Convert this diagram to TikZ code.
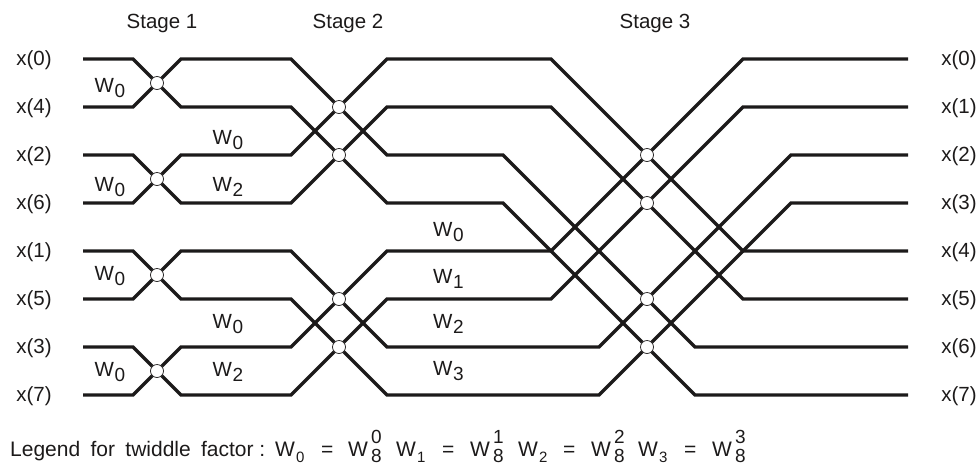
\documentclass[tikz,border=0pt]{standalone}
\usepackage{fontspec}
\setmainfont{Liberation Sans}
\definecolor{ink}{HTML}{1C1A1A}
\newcommand{\tw}[1]{W\hspace{0.5pt}\raisebox{-5pt}{\fontsize{19}{19}\selectfont #1}}
\newcommand{\tl}[1]{W\hspace{1pt}\raisebox{-6pt}{\fontsize{15}{15}\selectfont #1}}
\newcommand{\tp}[1]{W\hspace{3pt}\rlap{\raisebox{13.5pt}{\fontsize{19}{19}\selectfont #1}}\raisebox{-5.5pt}{\fontsize{19}{19}\selectfont 8}}
\tikzset{
  wire/.style={ink,line width=3.3pt},
  junc/.style={circle,draw=ink,fill=white,line width=0.7pt,minimum size=13pt,inner sep=0pt},
  lab/.style={text=ink,font=\fontsize{20.5}{24}\selectfont,anchor=base,inner sep=0pt},
  fac/.style={lab,anchor=base west},
  lgd/.style={fac,font=\fontsize{21}{24}\selectfont}
}

\begin{document}
\begin{tikzpicture}[x=1pt,y=-1pt]
    \useasboundingbox (0,0) rectangle (978,464);
    \node[lab] (st1) at (162,28) {Stage 1};
    \node[lab] (st2) at (348,28) {Stage 2};
    \node[lab] (st3) at (655,28) {Stage 3};

    \node[lab] (x0) at (34,65.5) {x(0)};
    \node[lab] (x1) at (34,113.5) {x(4)};
    \node[lab] (x2) at (34,161.5) {x(2)};
    \node[lab] (x3) at (34,209.5) {x(6)};
    \node[lab] (x4) at (34,257.5) {x(1)};
    \node[lab] (x5) at (34,305.5) {x(5)};
    \node[lab] (x6) at (34,353.5) {x(3)};
    \node[lab] (x7) at (34,401.5) {x(7)};

    \node[lab] (y0) at (959,65.5) {x(0)};
    \node[lab] (y1) at (959,113.5) {x(1)};
    \node[lab] (y2) at (959,161.5) {x(2)};
    \node[lab] (y3) at (959,209.5) {x(3)};
    \node[lab] (y4) at (959,257.5) {x(4)};
    \node[lab] (y5) at (959,305.5) {x(5)};
    \node[lab] (y6) at (959,353.5) {x(6)};
    \node[lab] (y7) at (959,401.5) {x(7)};

    % one row per line: start, then the bends along it, then the end
    \coordinate (in0) at (83,59); \coordinate (a0) at (133,59); \coordinate (b0) at (181,59); \coordinate (c0) at (291,59); \coordinate (d0) at (387,59); \coordinate (e0) at (551,59); \coordinate (f0) at (743,59); \coordinate (out0) at (908,59);
    \coordinate (in1) at (83,107); \coordinate (a1) at (133,107); \coordinate (b1) at (181,107); \coordinate (c1) at (291,107); \coordinate (d1) at (387,107); \coordinate (e1) at (551,107); \coordinate (f1) at (743,107); \coordinate (out1) at (908,107);
    \coordinate (in2) at (83,155); \coordinate (a2) at (133,155); \coordinate (b2) at (181,155); \coordinate (c2) at (291,155); \coordinate (d2) at (387,155); \coordinate (e2) at (503,155); \coordinate (f2) at (791,155); \coordinate (out2) at (908,155);
    \coordinate (in3) at (83,203); \coordinate (a3) at (133,203); \coordinate (b3) at (181,203); \coordinate (c3) at (291,203); \coordinate (d3) at (387,203); \coordinate (e3) at (503,203); \coordinate (f3) at (791,203); \coordinate (out3) at (908,203);
    \coordinate (in4) at (83,251); \coordinate (a4) at (133,251); \coordinate (b4) at (181,251); \coordinate (c4) at (291,251); \coordinate (d4) at (387,251); \coordinate (e4) at (551,251); \coordinate (f4) at (743,251); \coordinate (out4) at (908,251);
    \coordinate (in5) at (83,299); \coordinate (a5) at (133,299); \coordinate (b5) at (181,299); \coordinate (c5) at (291,299); \coordinate (d5) at (387,299); \coordinate (e5) at (551,299); \coordinate (f5) at (743,299); \coordinate (out5) at (908,299);
    \coordinate (in6) at (83,347); \coordinate (a6) at (133,347); \coordinate (b6) at (181,347); \coordinate (c6) at (291,347); \coordinate (d6) at (387,347); \coordinate (e6) at (599,347); \coordinate (f6) at (695,347); \coordinate (out6) at (908,347);
    \coordinate (in7) at (83,395); \coordinate (a7) at (133,395); \coordinate (b7) at (181,395); \coordinate (c7) at (291,395); \coordinate (d7) at (387,395); \coordinate (e7) at (599,395); \coordinate (f7) at (695,395); \coordinate (out7) at (908,395);

    \node[junc] (s1a) at (157,83) {};
    \node[junc] (s1b) at (157,179) {};
    \node[junc] (s1c) at (157,275) {};
    \node[junc] (s1d) at (157,371) {};
    \node[junc] (s2a) at (339,107) {};
    \node[junc] (s2b) at (339,155) {};
    \node[junc] (s2c) at (339,299) {};
    \node[junc] (s2d) at (339,347) {};
    \node[junc] (s3a) at (647,155) {};
    \node[junc] (s3b) at (647,203) {};
    \node[junc] (s3c) at (647,299) {};
    \node[junc] (s3d) at (647,347) {};

    \draw[wire] (in0) -- (a0) -- (s1a) -- (b1) -- (c1) -- (s2b) -- (d3) -- (e3) -- (s3d) -- (f7) -- (out7);
    \draw[wire] (in1) -- (a1) -- (s1a) -- (b0) -- (c0) -- (s2a) -- (d2) -- (e2) -- (s3c) -- (f6) -- (out6);
    \draw[wire] (in2) -- (a2) -- (s1b) -- (b3) -- (c3) -- (s2b) -- (d1) -- (e1) -- (s3b) -- (f5) -- (out5);
    \draw[wire] (in3) -- (a3) -- (s1b) -- (b2) -- (c2) -- (s2a) -- (d0) -- (e0) -- (s3a) -- (f4) -- (out4);
    \draw[wire] (in4) -- (a4) -- (s1c) -- (b5) -- (c5) -- (s2d) -- (d7) -- (e7) -- (s3d) -- (f3) -- (out3);
    \draw[wire] (in5) -- (a5) -- (s1c) -- (b4) -- (c4) -- (s2c) -- (d6) -- (e6) -- (s3c) -- (f2) -- (out2);
    \draw[wire] (in6) -- (a6) -- (s1d) -- (b7) -- (c7) -- (s2d) -- (d5) -- (e5) -- (s3b) -- (f1) -- (out1);
    \draw[wire] (in7) -- (a7) -- (s1d) -- (b6) -- (c6) -- (s2c) -- (d4) -- (e4) -- (s3a) -- (f0) -- (out0);

    \node[fac] (w1a) at (94.5,92) {\tw{0}};
    \node[fac] (w1b) at (94.5,191) {\tw{0}};
    \node[fac] (w1c) at (94.5,280) {\tw{0}};
    \node[fac] (w1d) at (94.5,376) {\tw{0}};
    \node[fac] (w2a) at (212.5,144) {\tw{0}};
    \node[fac] (w2b) at (212.5,191) {\tw{2}};
    \node[fac] (w2c) at (212.5,328) {\tw{0}};
    \node[fac] (w2d) at (212.5,376) {\tw{2}};
    \node[fac] (w3a) at (433,236) {\tw{0}};
    \node[fac] (w3b) at (433,283) {\tw{1}};
    \node[fac] (w3c) at (433,328) {\tw{2}};
    \node[fac] (w3d) at (433,375) {\tw{3}};

    \node[lgd] (leg) at (10,456.5) {Legend\hspace{4.5pt} for\hspace{4.5pt} twiddle\hspace{4.5pt} factor :};
    \node[lgd] (lw0) at (275,456.5) {\tl{0}};
    \node[lgd] (le0) at (321,456.5) {=};
    \node[lgd] (lp0) at (348,456.5) {\tp{0}};
    \node[lgd] (lw1) at (396,456.5) {\tl{1}};
    \node[lgd] (le1) at (442,456.5) {=};
    \node[lgd] (lp1) at (470,456.5) {\tp{1}};
    \node[lgd] (lw2) at (518,456.5) {\tl{2}};
    \node[lgd] (le2) at (563,456.5) {=};
    \node[lgd] (lp2) at (591,456.5) {\tp{2}};
    \node[lgd] (lw3) at (638,456.5) {\tl{3}};
    \node[lgd] (le3) at (684,456.5) {=};
    \node[lgd] (lp3) at (712,456.5) {\tp{3}};
  \end{tikzpicture}
\end{document}
